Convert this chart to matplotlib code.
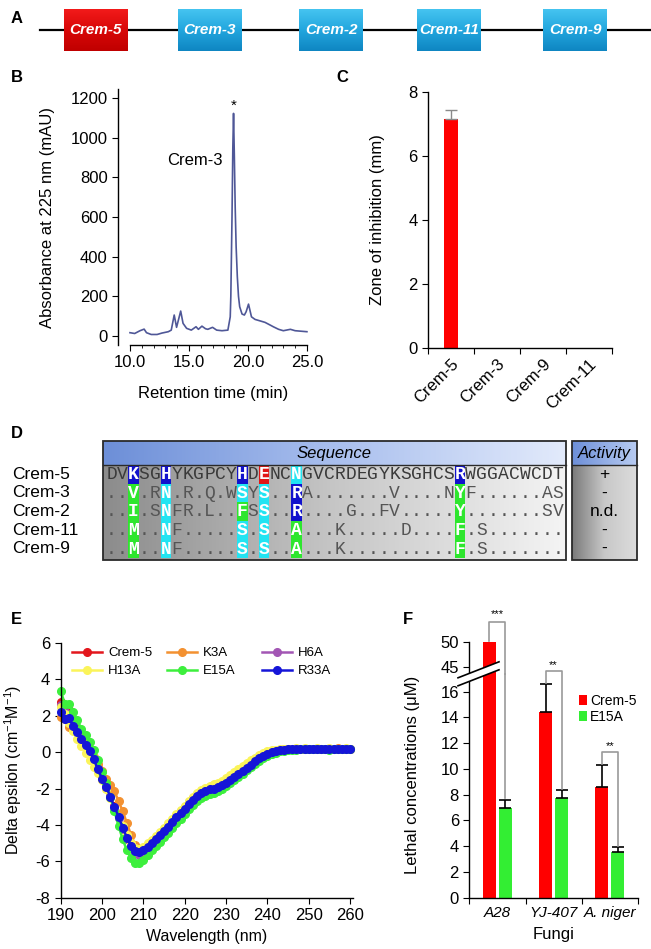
import numpy as np
import matplotlib
matplotlib.use('Agg')
import matplotlib.pyplot as plt
from matplotlib.patches import Rectangle, Polygon
from matplotlib.legend import Legend
from matplotlib.colors import LinearSegmentedColormap

plt.rcParams['font.family'] = ['Liberation Sans', 'DejaVu Sans']
plt.rcParams['mathtext.fontset'] = 'custom'
plt.rcParams['mathtext.rm'] = 'Liberation Sans'
plt.rcParams['mathtext.it'] = 'Liberation Sans:italic'
plt.rcParams['xtick.labelsize'] = 12
plt.rcParams['ytick.labelsize'] = 12
plt.rcParams['axes.labelsize'] = 12
plt.rcParams['axes.linewidth'] = 1.0
plt.rcParams['axes.unicode_minus'] = False

W, H = 651, 949

# ---------------- data ----------------
genes = ["Crem-5", "Crem-3", "Crem-2", "Crem-11", "Crem-9"]
gene_active = [True, False, False, False, False]

hplc_time = [10.0, 10.4, 10.85, 11.2, 11.4, 11.8, 12.3, 12.7, 13.25, 13.5, 13.75, 13.95,
             14.3, 14.5, 14.8, 15.2, 15.6, 15.8, 16.1, 16.4, 16.6, 17.0, 17.35, 17.8,
             18.3, 18.5, 18.55, 18.65, 18.72, 18.78, 18.85, 18.92, 19.0, 19.1, 19.2, 19.3,
             19.5, 19.7, 19.85, 20.05, 20.3, 20.6, 21.0, 21.45, 21.9, 22.15, 22.6, 23.0,
             23.6, 24.0, 24.4, 25.0]
hplc_abs = [17, 13, 27, 35, 17, 8, 8, 15, 22, 30, 106, 44,
            126, 64, 39, 30, 47, 34, 50, 37, 34, 44, 30, 27,
            30, 97, 200, 600, 950, 1122, 900, 650, 450, 300, 200, 148,
            111, 106, 123, 161, 97, 84, 77, 69, 55, 47, 34, 27,
            34, 27, 25, 22]

zone_labels = ["Crem-5", "Crem-3", "Crem-9", "Crem-11"]
zone_values = [7.15, 0, 0, 0]
zone_err = [0.3, 0, 0, 0]

seq_names = ["Crem-5", "Crem-3", "Crem-2", "Crem-11", "Crem-9"]
seq_rows = [
    "DVKSGHYKGPCYHDENCNGVCRDEGYKSGHCSRWGGACWCDT",
    "..V.RN.R.Q.WSYS..RA.......V....NYF......AS",
    "..I.SNFR.L..FSS..R....G..FV.....Y.......SV",
    "..M..NF.....S.S..A...K.....D....F.S.......",
    "..M..NF.....S.S..A...K..........F.S.......",
]
seq_marks = [
    {3: 'b', 6: 'b', 13: 'b', 15: 'r', 18: 'c', 33: 'b'},
    {3: 'g', 6: 'c', 13: 'c', 15: 'c', 18: 'b', 33: 'g'},
    {3: 'g', 6: 'c', 13: 'g', 15: 'c', 18: 'b', 33: 'g'},
    {3: 'g', 6: 'c', 13: 'c', 15: 'c', 18: 'g', 33: 'g'},
    {3: 'g', 6: 'c', 13: 'c', 15: 'c', 18: 'g', 33: 'g'},
]
activity = ["+", "-", "n.d.", "-", "-"]

cd_wavelength = list(range(190, 261))
cd_names = ["Crem-5", "K3A", "H6A", "H13A", "E15A", "R33A"]
cd_crem5 = [2.75, 2.4, 2.3, 1.7, 1.3, 0.9, 0.5, 0.1, -0.35, -0.85,
            -1.35, -1.85, -2.4, -2.98, -3.55, -4.12, -4.65, -5.1, -5.45, -5.55,
            -5.45, -5.25, -5.03, -4.8, -4.57, -4.33, -4.08, -3.8, -3.52, -3.26,
            -3.0, -2.74, -2.52, -2.35, -2.22, -2.12, -2.05, -1.99, -1.91, -1.8,
            -1.68, -1.53, -1.36, -1.18, -1.0, -0.83, -0.66, -0.49, -0.33, -0.19,
            -0.07, 0.01, 0.07, 0.11, 0.14, 0.16, 0.17, 0.17, 0.18, 0.18,
            0.18, 0.17, 0.18, 0.18, 0.19, 0.18, 0.18, 0.17, 0.18, 0.18, 0.18]
cd_k3a = [1.95, 1.85, 1.4, 1.55, 1.1, 0.85, 0.5, 0.15, -0.25, -0.65,
          -1.05, -1.45, -1.8, -2.15, -2.7, -3.25, -3.9, -4.55, -5.1, -5.35,
          -5.3, -5.15, -4.95, -4.75, -4.52, -4.3, -4.06, -3.8, -3.54, -3.3,
          -3.07, -2.83, -2.6, -2.4, -2.23, -2.1, -2.02, -1.97, -1.89, -1.79,
          -1.67, -1.52, -1.35, -1.17, -0.99, -0.82, -0.65, -0.48, -0.31, -0.18,
          -0.06, 0.02, 0.08, 0.12, 0.15, 0.17, 0.18, 0.19, 0.19, 0.2,
          0.2, 0.19, 0.2, 0.2, 0.19, 0.2, 0.2, 0.21, 0.2, 0.2, 0.2]
cd_h6a = [2.6, 2.2, 2.05, 1.55, 1.2, 0.8, 0.42, 0.05, -0.4, -0.92,
          -1.42, -1.9, -2.45, -3.02, -3.6, -4.2, -4.75, -5.2, -5.55, -5.65,
          -5.52, -5.3, -5.07, -4.84, -4.6, -4.37, -4.13, -3.86, -3.58, -3.34,
          -3.1, -2.86, -2.63, -2.43, -2.27, -2.15, -2.08, -2.03, -1.95, -1.85,
          -1.73, -1.58, -1.41, -1.23, -1.05, -0.87, -0.7, -0.52, -0.35, -0.21,
          -0.09, 0.0, 0.06, 0.1, 0.13, 0.15, 0.16, 0.17, 0.17, 0.18,
          0.18, 0.18, 0.18, 0.19, 0.18, 0.18, 0.17, 0.18, 0.18, 0.18, 0.18]
cd_h13a = [2.5, 2.1, 1.6, 1.15, 0.75, 0.35, -0.05, -0.45, -0.8, -1.15,
           -1.55, -2.0, -2.5, -3.05, -3.55, -4.05, -4.55, -4.98, -5.25, -5.3,
           -5.2, -5.02, -4.82, -4.6, -4.38, -4.15, -3.9, -3.65, -3.4, -3.17,
           -2.94, -2.7, -2.47, -2.27, -2.1, -1.95, -1.85, -1.77, -1.68, -1.56,
           -1.42, -1.26, -1.1, -0.93, -0.76, -0.6, -0.45, -0.3, -0.16, -0.05,
           0.04, 0.1, 0.14, 0.17, 0.19, 0.2, 0.2, 0.21, 0.2, 0.21,
           0.2, 0.2, 0.21, 0.2, 0.2, 0.21, 0.2, 0.2, 0.2, 0.21, 0.2]
cd_e15a = [3.37, 2.65, 2.65, 2.2, 1.75, 1.3, 0.93, 0.55, 0.1, -0.45,
           -1.08, -1.72, -2.45, -3.25, -4.05, -4.8, -5.38, -5.82, -6.08, -6.1,
           -5.92, -5.66, -5.4, -5.17, -4.93, -4.68, -4.43, -4.17, -3.92, -3.66,
           -3.4, -3.14, -2.9, -2.7, -2.54, -2.4, -2.3, -2.22, -2.13, -2.02,
           -1.88, -1.72, -1.55, -1.37, -1.18, -1.0, -0.82, -0.64, -0.47, -0.32,
           -0.2, -0.1, -0.02, 0.04, 0.08, 0.11, 0.13, 0.14, 0.15, 0.15,
           0.15, 0.15, 0.16, 0.15, 0.15, 0.14, 0.15, 0.15, 0.15, 0.16, 0.15]
cd_r33a = [2.2, 1.8, 1.9, 1.45, 1.1, 0.75, 0.4, 0.05, -0.4, -0.95,
           -1.45, -1.9, -2.45, -3.0, -3.55, -4.15, -4.7, -5.15, -5.45, -5.5,
           -5.4, -5.2, -5.0, -4.78, -4.56, -4.33, -4.1, -3.82, -3.55, -3.32,
           -3.1, -2.86, -2.62, -2.42, -2.25, -2.12, -2.05, -2.0, -1.92, -1.82,
           -1.7, -1.55, -1.38, -1.2, -1.02, -0.85, -0.68, -0.5, -0.33, -0.2,
           -0.08, 0.0, 0.06, 0.1, 0.13, 0.15, 0.16, 0.17, 0.17, 0.18,
           0.18, 0.18, 0.19, 0.18, 0.18, 0.17, 0.18, 0.19, 0.18, 0.18, 0.18]
cd_series = [cd_crem5, cd_k3a, cd_h6a, cd_h13a, cd_e15a, cd_r33a]
cd_colors = ['#e3171d', '#f39131', '#a256b4', '#fbf45a', '#3def3d', '#1515d8']

fungi = ["A28", "YJ-407", "A. niger"]
lethal_crem5 = [50, 14.45, 8.62]
lethal_crem5_err = [0, 2.15, 1.68]
lethal_e15a = [6.93, 7.71, 3.52]
lethal_e15a_err = [0.65, 0.65, 0.44]
lethal_sig = ["***", "**", "**"]

# ---------------- figure ----------------
fig = plt.figure(figsize=(W / 100, H / 100), dpi=100)


def pax(x0, y0, x1, y1, **kw):
    return fig.add_axes([x0 / W, 1 - y1 / H, (x1 - x0) / W, (y1 - y0) / H], **kw)


axO = pax(0, 0, W, H)
axO.set_axis_off()

# panel letters
for lab, (lx, ly) in zip("ABCDEF", [(11, 18), (11, 77), (336, 77), (11, 433), (11, 620), (403, 620)]):
    axO.text(lx, ly, lab, fontsize=12, fontweight='bold', ha='left', va='center')

# ---------------- A: gene cluster ----------------
axO.plot([40, 650], [30, 30], color='black', lw=1.6, zorder=1)
red_cm = LinearSegmentedColormap.from_list('r', ['#f21a1a', '#d80808', '#c00000'])
blue_cm = LinearSegmentedColormap.from_list('b', ['#45c4f0', '#22a6de', '#0f86c2'])
box_x = [64, 178, 299, 417, 543]
for name, x0, act in zip(genes, box_x, gene_active):
    axO.imshow(np.linspace(0, 1, 60)[:, None], extent=(x0, x0 + 64, 51, 9),
               cmap=red_cm if act else blue_cm, aspect='auto', origin='upper', zorder=2)
    axO.text(x0 + 32, 29.5, name, color='white', fontweight='bold', fontstyle='italic',
             fontsize=11, ha='center', va='center', zorder=3)

# ---------------- B: HPLC ----------------
axB = pax(118, 89, 307.5, 345)
axB.plot(hplc_time, hplc_abs, color='#4f5797', lw=1.2)
axB.set_xlim(8.985, 25.05)
axB.set_ylim(-45, 1245)
axB.spines[['top', 'right']].set_visible(False)
axB.spines['bottom'].set_bounds(10, 25)
axB.set_xticks([10, 15, 20, 25])
axB.set_xticklabels(['10.0', '15.0', '20.0', '25.0'])
axB.set_xticks(np.arange(10, 25.5, 1), minor=True)
axB.set_yticks(range(0, 1201, 200))
axB.tick_params(which='major', length=4)
axB.tick_params(which='minor', length=2.5)
axB.set_xlabel('Retention time (min)', labelpad=11)
axB.set_ylabel('Absorbance at 225 nm (mAU)')
axB.yaxis.set_label_coords(-0.33, 0.5)
axB.text(15.5, 885, 'Crem-3', fontsize=12, ha='center', va='center')
axB.text(18.8, 1160, '*', fontsize=11, ha='center', va='center')

# ---------------- C: zone of inhibition ----------------
axC = pax(428, 92, 612, 348)
pos = [0.5, 1.5, 2.5, 3.5]
axC.bar(pos, zone_values, width=0.3, color='#ff0000')
for p, v, e in zip(pos, zone_values, zone_err):
    if e > 0:
        axC.errorbar([p], [v], yerr=[[0], [e]], fmt='none', ecolor='#8a8a8a',
                     elinewidth=1, capsize=4, capthick=1)
axC.set_xlim(0, 4)
axC.set_ylim(0, 8)
axC.spines[['top', 'right']].set_visible(False)
axC.set_xticks([0, 1, 2, 3, 4])
axC.set_xticklabels([])
axC.set_xticks(pos, minor=True)
axC.set_xticklabels(zone_labels, minor=True, rotation=45, ha='right', rotation_mode='anchor')
axC.tick_params(axis='x', which='minor', length=0, pad=6)
axC.tick_params(which='major', length=4)
axC.set_yticks([0, 2, 4, 6, 8])
axC.set_ylabel('Zone of inhibition (mm)')
axC.yaxis.set_label_coords(-0.235, 0.5)

# ---------------- D: sequence alignment ----------------
seq_left, seq_right = 103, 566
act_left, act_right = 572, 637
top, head_bot = 441, 465
row_h = 18.6
bot = head_bot + row_h * len(seq_rows) + 2
cw = 10.89
c0 = 111.5
mark_col = {'b': '#1212cc', 'r': '#e01818', 'c': '#22e4f2', 'g': '#2ee62e'}
head_cm = LinearSegmentedColormap.from_list('h', ['#6d8fd8', '#a9bfee', '#e2eafb'])
body_cm = LinearSegmentedColormap.from_list('g', ['#8c8c8c', '#c6c6c6', '#f4f4f4'])
act_cm = LinearSegmentedColormap.from_list('a', ['#7a7a7a', '#c8c8c8', '#dcdcdc'])
act_head_cm = LinearSegmentedColormap.from_list('ah', ['#6d8fd8', '#b8ccf2'])
grad = np.linspace(0, 1, 200)[None, :]
axO.imshow(grad, extent=(seq_left, seq_right, head_bot, top), cmap=head_cm, aspect='auto', zorder=1)
axO.imshow(grad, extent=(seq_left, seq_right, bot, head_bot), cmap=body_cm, aspect='auto', zorder=1)
axO.imshow(grad, extent=(act_left, act_right, head_bot, top), cmap=act_head_cm, aspect='auto', zorder=1)
axO.imshow(grad, extent=(act_left, act_right, bot, head_bot), cmap=act_cm, aspect='auto', zorder=1)
for x0, x1 in [(seq_left, seq_right), (act_left, act_right)]:
    axO.add_patch(Rectangle((x0, top), x1 - x0, bot - top, fill=False, ec='#2a2a2a', lw=1.3, zorder=5))
    axO.plot([x0, x1], [head_bot, head_bot], color='#2a2a2a', lw=1.0, zorder=5)
axO.text((seq_left + seq_right) / 2, (top + head_bot) / 2, 'Sequence', fontsize=12,
         fontstyle='italic', ha='center', va='center', zorder=6)
axO.text((act_left + act_right) / 2, (top + head_bot) / 2, 'Activity', fontsize=12,
         fontstyle='italic', ha='center', va='center', zorder=6)
for r, (name, seq, marks, act) in enumerate(zip(seq_names, seq_rows, seq_marks, activity)):
    yc = head_bot + row_h * (r + 0.5)
    axO.text(12, yc, name, fontsize=12.5, ha='left', va='center')
    axO.text((act_left + act_right) / 2, yc, act, fontsize=12.5, ha='center', va='center', zorder=6)
    for k, ch in enumerate(seq):
        xc = c0 + k * cw
        m = marks.get(k + 1)
        if m:
            axO.add_patch(Rectangle((xc - cw / 2, yc - row_h / 2), cw, row_h,
                                    color=mark_col[m], lw=0, zorder=3))
            col, fw = 'white', 'bold'
        else:
            col, fw = ('#3a3a3a' if r == 0 else '#555555'), 'normal'
        axO.text(xc, yc + 0.5, ch, fontsize=13, family='Liberation Mono', color=col,
                 fontweight=fw, ha='center', va='center', zorder=4)

axO.set_xlim(0, W)
axO.set_ylim(H, 0)

# ---------------- E: CD spectra ----------------
axE = pax(60.7, 643, 353, 897.7)
handles = []
for name, vals, col in zip(cd_names, cd_series, cd_colors):
    h, = axE.plot(cd_wavelength, vals, color=col, lw=1.8, marker='o', ms=5.5,
                  label=name, clip_on=False)
    handles.append(h)
axE.set_xlim(190, 260.7)
axE.set_ylim(-8, 6)
axE.spines[['top', 'right']].set_visible(False)
axE.set_xticks(range(190, 261, 10))
axE.set_yticks(range(-8, 7, 2))
axE.tick_params(length=4)
axE.set_xlabel('Wavelength (nm)', fontsize=11.5)
axE.set_ylabel(r'Delta epsilon (cm$^{\mathregular{-1}}$M$^{\mathregular{-1}}$)', fontsize=11.5)
axE.yaxis.set_label_coords(-0.125, 0.5)
leg_cols = [(72, [0, 3]), (167, [1, 4]), (262, [2, 5])]
for lx, idx in leg_cols:
    lg = Legend(axE, [handles[i] for i in idx], [cd_names[i] for i in idx],
                loc='upper left', bbox_to_anchor=(lx / W, 1 - 647 / H),
                bbox_transform=fig.transFigure, frameon=False, fontsize=9.5,
                handlelength=2.3, handletextpad=0.45, labelspacing=0.45,
                borderpad=0, borderaxespad=0, numpoints=1)
    axE.add_artist(lg)

# ---------------- F: lethal concentrations ----------------
join = 674
axF = pax(469.3, join, 638, 897.7)
axF2 = pax(469.3, 641.7, 638, join)
axF2.set_facecolor('none')
cpos = np.array([0.5, 1.5, 2.5])
off, bw = 0.142, 0.23
for ax in (axF, axF2):
    ax.bar(cpos - off, lethal_crem5, width=bw, color='#ff0000', label='Crem-5')
    ax.bar(cpos + off, lethal_e15a, width=bw, color='#33ee33', label='E15A')
    ax.set_xlim(0, 3)
    ax.spines[['top', 'right']].set_visible(False)
    ax.tick_params(length=4)
for p, v, e in zip(cpos - off, lethal_crem5, lethal_crem5_err):
    if e > 0:
        axF.errorbar([p], [v], yerr=[[0], [e]], fmt='none', ecolor='black', elinewidth=1.2,
                     capsize=4, capthick=1.2)
for p, v, e in zip(cpos + off, lethal_e15a, lethal_e15a_err):
    if e > 0:
        axF.errorbar([p], [v], yerr=[[0], [e]], fmt='none', ecolor='black', elinewidth=1.2,
                     capsize=4, capthick=1.2)
axF.set_ylim(0, (897.7 - join) / 12.875)
axF.set_yticks(range(0, 17, 2))
axF2.set_ylim(50 - (join - 641.7) / 4.97, 50)
axF2.set_yticks([45, 50])
axF2.spines['bottom'].set_visible(False)
axF2.set_xticks([])
axF.set_xticks([0, 1, 2, 3])
axF.set_xticklabels([])
axF.set_xticks(cpos, minor=True)
axF.set_xticklabels(fungi, minor=True, fontstyle='italic', fontsize=11)
axF.tick_params(axis='x', which='minor', length=0, pad=6)
axF.set_xlabel('Fungi', labelpad=5)
axF.set_ylabel('Lethal concentrations (\u03bcM)')
axF.yaxis.set_label_coords(-0.29, 0.55)
axF.legend(loc='upper left', bbox_to_anchor=(579 / W, 1 - 694 / H), bbox_transform=fig.transFigure,
           frameon=False, fontsize=10, handlelength=0.55, handleheight=0.75, handletextpad=0.25,
           labelspacing=0.12, borderpad=0, borderaxespad=0)

# significance brackets
gc = '#9a9a9a'
xl, xr = cpos[0] - off, cpos[0] + off
top_u = 54.0
axF2.plot([xl, xl, xr, xr], [50.2, top_u, top_u, axF2.get_ylim()[0]], color=gc, lw=1.2, clip_on=False)
axF.plot([xr, xr], [axF.get_ylim()[1], lethal_e15a[0] + lethal_e15a_err[0] + 0.15], color=gc, lw=1.2, clip_on=False)
axF2.text((xl + xr) / 2, top_u + 0.6, lethal_sig[0], ha='center', va='bottom', fontsize=8)
for i in (1, 2):
    xl, xr = cpos[i] - off, cpos[i] + off
    yl = lethal_crem5[i] + lethal_crem5_err[i]
    yr = lethal_e15a[i] + lethal_e15a_err[i]
    yt = yl + 1.0
    axF.plot([xl, xl, xr, xr], [yl + 0.05, yt, yt, yr + 0.05], color=gc, lw=1.2, clip_on=False)
    axF.text((xl + xr) / 2, yt + 0.1, lethal_sig[i], ha='center', va='bottom', fontsize=8)

# axis break marks (top overlay)
axT = pax(0, 0, W, H, zorder=10)
axT.set_axis_off()
bx0, bx1, by, slope, half = 458, 499, 674, -0.39, 4.0
yy0 = by + slope * (bx0 - 478)
yy1 = by + slope * (bx1 - 478)
axT.add_patch(Polygon([(bx0, yy0 - half), (bx1, yy1 - half), (bx1, yy1 + half), (bx0, yy0 + half)],
                      closed=True, fc='white', ec='none'))
axT.plot([bx0, bx1], [yy0 - half, yy1 - half], color='black', lw=1.2)
axT.plot([bx0, bx1], [yy0 + half, yy1 + half], color='black', lw=1.2)
axT.set_xlim(0, W)
axT.set_ylim(H, 0)

fig.savefig('out.png', dpi=100)
